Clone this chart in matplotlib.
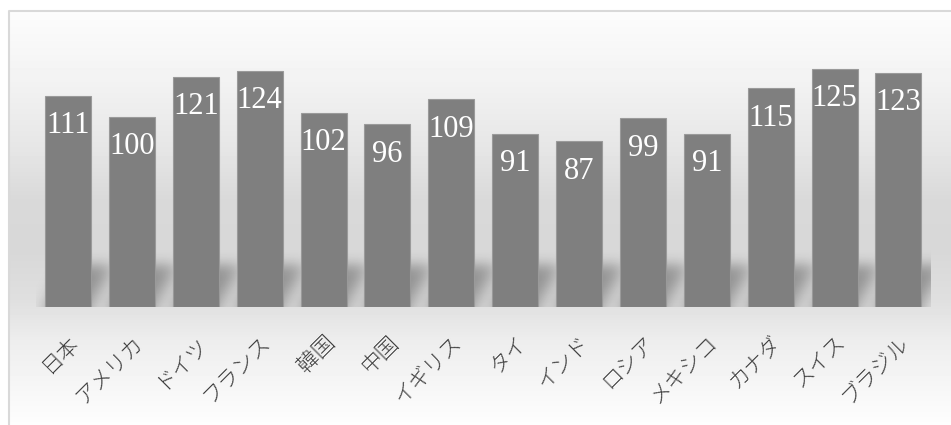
import numpy as np
import matplotlib
matplotlib.use("Agg")
import matplotlib.pyplot as plt

countries = ["日本", "アメリカ", "ドイツ", "フランス", "韓国", "中国", "イギリス",
             "タイ", "インド", "ロシア", "メキシコ", "カナダ", "スイス", "ブラジル"]
values = [111, 100, 121, 124, 102, 96, 109, 91, 87, 99, 91, 115, 125, 123]

W, H = 951, 425
fig = plt.figure(figsize=(W / 100, H / 100), dpi=100)

# grey vertical gradient behind everything, plus the thin frame
bg = fig.add_axes([0, 0, 1, 1], zorder=0)
stops_y = [10, 80, 150, 200, 250, 300, 340, 425]
stops_v = [0.99, 0.95, 0.90, 0.85, 0.845, 0.875, 0.93, 0.995]
col = np.interp(np.arange(H), stops_y, stops_v)
img = np.repeat(col[:, None], W, axis=1)
img[:10, :] = 1.0
img[:, :8] = 1.0
bg.imshow(img, cmap="gray", vmin=0, vmax=1, aspect="auto",
          extent=(0, W, H, 0), interpolation="bilinear")
bg.plot([8.5, 8.5, W], [H, 10.5, 10.5], color="#d9d9d9", lw=1.5)
bg.set_xlim(0, W)
bg.set_ylim(H, 0)
bg.axis("off")

ax = fig.add_axes([36.06 / W, 118 / H, 894.3 / W, 266.6 / H], zorder=1)
ax.patch.set_alpha(0)
x = np.arange(len(values))
bar_w = 0.72

# soft skewed shadows at the foot of each bar
gx = np.linspace(-0.5, 13.9, 1440)
gy = np.linspace(-8, 36, 440)
X, Y = np.meshgrid(gx, gy)
shade = np.zeros_like(X)
for xi in x:
    inside = (np.abs(X - 0.016 * np.clip(Y, 0, None) - xi) <= bar_w / 2) & (Y <= 22)
    shade[inside] = 1.0

def blur(a, sigma, axis):
    n = int(sigma * 3)
    t = np.arange(-n, n + 1)
    k = np.exp(-0.5 * (t / sigma) ** 2)
    k /= k.sum()
    return np.apply_along_axis(lambda m: np.convolve(m, k, mode="same"), axis, a)

shade = blur(shade, 13, 1)
shade = blur(shade, 35, 0)
rgba = np.zeros(shade.shape + (4,))
rgba[..., 3] = 0.34 * shade
ax.imshow(rgba, extent=(-0.5, 13.9, -8, 36), origin="lower", aspect="auto",
          interpolation="bilinear", zorder=1)

ax.bar(x, values, width=bar_w, color="#7f7f7f", edgecolor="#9a9a9a",
       linewidth=0.8, zorder=3)
for xi, v in zip(x, values):
    ax.annotate(str(v), (xi, v), xytext=(0, -21.6), textcoords="offset points",
                ha="center", va="center", color="white", fontsize=22,
                family="Liberation Serif", zorder=4)

ax.set_xlim(-0.5, 13.5)
ax.set_ylim(0, 140)
ax.set_yticks([])
ax.set_xticks(x)
ax.set_xticklabels(countries, rotation=45, ha="right", va="top",
                   rotation_mode="anchor", fontsize=15.5, color="#404040",
                   family="Noto Sans CJK JP", fontweight="light")
ax.tick_params(axis="x", length=0, pad=17.5)
for s in ax.spines.values():
    s.set_visible(False)

fig.savefig("out.png", dpi=100)
